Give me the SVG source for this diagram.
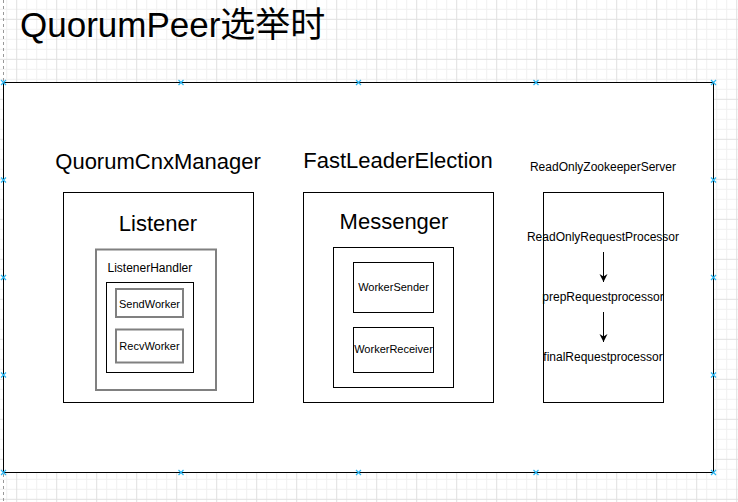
<svg xmlns="http://www.w3.org/2000/svg" width="738" height="502" viewBox="0 0 738 502">
  <style>
    text { font-family: "Liberation Sans", Arial, "Noto Sans CJK SC", sans-serif; fill: #000; }
    .box { fill: #fff; stroke: #000; stroke-width: 1; }
    .gbox { fill: #fff; stroke: #808080; stroke-width: 2; }
    .h22 { font-size: 22px; text-anchor: middle; }
    .t12 { font-size: 12px; text-anchor: middle; }
    .t11 { font-size: 11px; text-anchor: middle; }
    .conn { stroke: #000; stroke-width: 1; fill: none; }
    .hd { stroke: #29b6f2; stroke-width: 1.2; fill: none; }
  </style>
  <defs>
    <pattern id="grid" patternUnits="userSpaceOnUse" x="16.2" y="18.8" width="40" height="40">
      <path d="M10.5 0V40M20.5 0V40M30.5 0V40M0 10.5H40M0 20.5H40M0 30.5H40" stroke="#f0f0f0" stroke-width="1"/>
      <path d="M0.5 0V40M0 0.5H40" stroke="#e0e0e0" stroke-width="1"/>
    </pattern>
    <marker id="arr" viewBox="0 0 10 10" refX="10" refY="5" markerWidth="8" markerHeight="9" markerUnits="userSpaceOnUse" orient="auto">
      <path d="M0 0L10 5L0 10L3 5Z" fill="#000"/>
    </marker>
    <path id="hx" d="M-2.5 -2.5L2.5 2.5M-2.5 2.5L2.5 -2.5"/>
  </defs>

  <rect x="0" y="0" width="738" height="502" fill="#fff"/>
  <rect x="0" y="0" width="738" height="502" fill="url(#grid)"/>
  <line x1="3.5" y1="0" x2="3.5" y2="502" stroke="#999" stroke-width="1" stroke-dasharray="3 3"/>

  <g id="title">
    <text x="20" y="37" style="font-size:35px">QuorumPeer选举时</text>
  </g>

  <g id="container">
    <rect x="3.5" y="82.5" width="710" height="390" class="box"/>
  </g>

  <g id="quorumCnxManager">
    <text x="158" y="169" class="h22">QuorumCnxManager</text>
    <rect x="63.5" y="192.5" width="190" height="210" class="box"/>
    <text x="158" y="231" class="h22">Listener</text>
  </g>
  <g id="listenerHandler">
    <rect x="96" y="249.5" width="120" height="140.5" class="gbox"/>
    <text x="107.5" y="271.5" style="font-size:12px">ListenerHandler</text>
    <rect x="106.5" y="282.5" width="87" height="90" class="box"/>
  </g>
  <g id="sendWorker">
    <rect x="116" y="289" width="67" height="28" class="gbox"/>
    <text x="149.5" y="307.5" class="t11">SendWorker</text>
  </g>
  <g id="recvWorker">
    <rect x="116" y="329.5" width="67" height="33" class="gbox"/>
    <text x="149.5" y="349.5" class="t11">RecvWorker</text>
  </g>

  <g id="fastLeaderElection">
    <text x="398" y="168" class="h22">FastLeaderElection</text>
    <rect x="303.5" y="192.5" width="190" height="210" class="box"/>
    <text x="394" y="229" class="h22">Messenger</text>
    <rect x="333.5" y="247.5" width="120" height="140" class="box"/>
  </g>
  <g id="workerSender">
    <rect x="353.5" y="262.5" width="80" height="50" class="box"/>
    <text x="393.5" y="291" class="t11">WorkerSender</text>
  </g>
  <g id="workerReceiver">
    <rect x="353.5" y="327.5" width="80" height="45" class="box"/>
    <text x="393.5" y="353" class="t11">WorkerReceiver</text>
  </g>

  <g id="readOnlyZookeeperServer">
    <text x="603" y="170.5" class="t12">ReadOnlyZookeeperServer</text>
    <rect x="543.5" y="192.5" width="120" height="210" class="box"/>
  </g>
  <g id="readOnlyRequestProcessor">
    <text x="603" y="241" class="t12">ReadOnlyRequestProcessor</text>
  </g>
  <g id="prepRequestprocessor">
    <text x="603" y="301" class="t12">prepRequestprocessor</text>
  </g>
  <g id="finalRequestprocessor">
    <text x="603" y="361" class="t12">finalRequestprocessor</text>
  </g>

  <g id="connectors">
    <line x1="603.5" y1="252" x2="603.5" y2="282" class="conn" marker-end="url(#arr)"/>
    <line x1="603.5" y1="312" x2="603.5" y2="342" class="conn" marker-end="url(#arr)"/>
  </g>

  <g id="handles" class="hd">
    <use href="#hx" x="3.5" y="82.5"/>
    <use href="#hx" x="181" y="82.5"/>
    <use href="#hx" x="358.5" y="82.5"/>
    <use href="#hx" x="536" y="82.5"/>
    <use href="#hx" x="713.5" y="82.5"/>
    <use href="#hx" x="3.5" y="472.5"/>
    <use href="#hx" x="181" y="472.5"/>
    <use href="#hx" x="358.5" y="472.5"/>
    <use href="#hx" x="536" y="472.5"/>
    <use href="#hx" x="713.5" y="472.5"/>
    <use href="#hx" x="3.5" y="180"/>
    <use href="#hx" x="3.5" y="277.5"/>
    <use href="#hx" x="3.5" y="375"/>
    <use href="#hx" x="713.5" y="180"/>
    <use href="#hx" x="713.5" y="277.5"/>
    <use href="#hx" x="713.5" y="375"/>
  </g>
</svg>
